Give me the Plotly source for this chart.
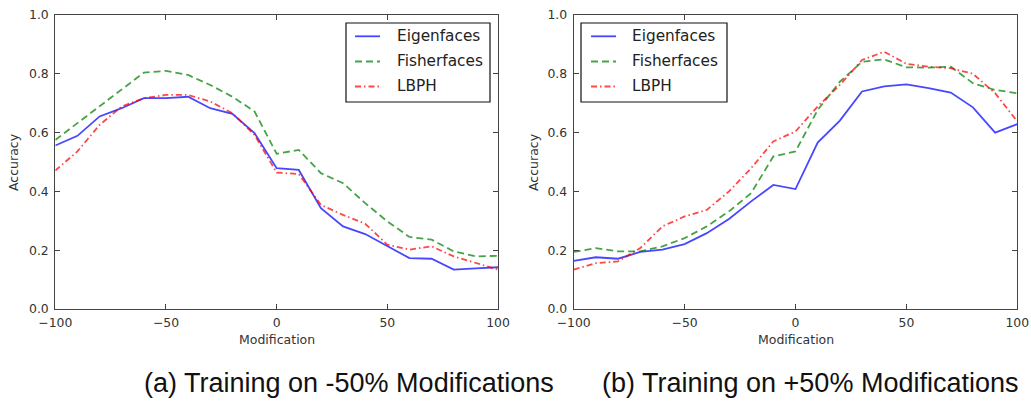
import plotly.graph_objects as go

# Modification levels (percent) shared by both panels
modification = [-100, -90, -80, -70, -60, -50, -40, -30, -20, -10, 0,
                10, 20, 30, 40, 50, 60, 70, 80, 90, 100]

# (a) trained on -50% modifications
eigen_a = [0.556, 0.589, 0.655, 0.683, 0.717, 0.717, 0.722, 0.683, 0.664, 0.598, 0.479,
           0.473, 0.343, 0.281, 0.255, 0.213, 0.173, 0.171, 0.134, 0.138, 0.142]
fisher_a = [0.575, 0.632, 0.690, 0.745, 0.804, 0.810, 0.796, 0.762, 0.722, 0.672, 0.528,
            0.541, 0.462, 0.428, 0.360, 0.298, 0.245, 0.236, 0.196, 0.179, 0.181]
lbph_a = [0.471, 0.536, 0.626, 0.689, 0.717, 0.728, 0.728, 0.706, 0.666, 0.592, 0.464,
          0.459, 0.354, 0.320, 0.290, 0.219, 0.202, 0.213, 0.179, 0.156, 0.134]

# (b) trained on +50% modifications
eigen_b = [0.164, 0.176, 0.171, 0.194, 0.202, 0.221, 0.258, 0.306, 0.366, 0.422, 0.408,
           0.566, 0.641, 0.740, 0.757, 0.764, 0.751, 0.736, 0.686, 0.600, 0.629]
fisher_b = [0.194, 0.207, 0.196, 0.196, 0.213, 0.241, 0.281, 0.332, 0.394, 0.519, 0.536,
            0.677, 0.773, 0.841, 0.849, 0.822, 0.821, 0.824, 0.768, 0.745, 0.734]
lbph_b = [0.134, 0.156, 0.162, 0.207, 0.281, 0.315, 0.337, 0.400, 0.479, 0.570, 0.604,
          0.689, 0.762, 0.847, 0.875, 0.834, 0.824, 0.819, 0.800, 0.734, 0.638]

methods = ["Eigenfaces", "Fisherfaces", "LBPH"]
x_ticks = [-100, -50, 0, 50, 100]
x_tick_text = ["\u2212100", "\u221250", "0", "50", "100"]
y_ticks = [0.0, 0.2, 0.4, 0.6, 0.8, 1.0]
y_tick_text = ["0.0", "0.2", "0.4", "0.6", "0.8", "1.0"]
captions = ["(a) Training on -50% Modifications", "(b) Training on +50% Modifications"]

W, H = 1031, 401
styles = [
    dict(color="rgba(0,0,255,0.72)", dash="solid"),
    dict(color="rgba(0,128,0,0.72)", dash="7px,4px"),
    dict(color="rgba(255,0,0,0.72)", dash="6px,3px,1.5px,3px"),
]

# panel geometry in pixels: (left, right) of each axes box, plus top/bottom
panels_px = [(55.3, 498.0), (573.7, 1017.3)]
top_px, bottom_px = 15.0, 309.0
ydom = [1 - bottom_px / H, 1 - top_px / H]

fig = go.Figure()
panels = [(eigen_a, fisher_a, lbph_a), (eigen_b, fisher_b, lbph_b)]
for i, series in enumerate(panels):
    xa = "x" if i == 0 else "x2"
    ya = "y" if i == 0 else "y2"
    for name, vals, st in zip(methods, series, styles):
        fig.add_trace(go.Scatter(
            x=modification, y=vals, mode="lines", name=name,
            line=dict(color=st["color"], dash=st["dash"], width=1.8),
            xaxis=xa, yaxis=ya, showlegend=False, cliponaxis=True,
        ))

axis_font = dict(family="DejaVu Sans", size=12.4, color="#333333")
common_x = dict(range=[-100, 100], tickvals=x_ticks, ticktext=x_tick_text,
                ticks="inside", ticklen=5, tickcolor="#444444", mirror="allticks",
                showline=True, linecolor="#444444", linewidth=1.2, showgrid=False,
                zeroline=False, tickfont=axis_font, fixedrange=True, automargin=False,
                ticklabelstandoff=2)
common_y = dict(range=[0, 1], tickvals=y_ticks, ticktext=y_tick_text,
                ticks="inside", ticklen=5, tickcolor="#444444", mirror="allticks",
                showline=True, linecolor="#444444", linewidth=1.2, showgrid=False,
                zeroline=False, tickfont=axis_font, fixedrange=True, domain=ydom,
                automargin=False, ticklabelstandoff=3)

fig.update_layout(
    width=W, height=H,
    margin=dict(l=0, r=0, t=0, b=0, autoexpand=False),
    paper_bgcolor="white", plot_bgcolor="white",
    xaxis=dict(common_x, domain=[panels_px[0][0] / W, panels_px[0][1] / W], anchor="y"),
    yaxis=dict(common_y, anchor="x"),
    xaxis2=dict(common_x, domain=[panels_px[1][0] / W, panels_px[1][1] / W], anchor="y2"),
    yaxis2=dict(common_y, anchor="x2"),
    showlegend=False,
)

small_font = dict(family="DejaVu Sans", size=12.5, color="#333333")
caption_font = dict(family="Liberation Sans Narrow, Arial Narrow, Liberation Sans", size=27, color="#111111")

# legend boxes (pixel coords) per panel: box left/right, sample start/end, text start
legend_px = [
    dict(box=(346, 490), line=(355, 380), text=395),
    dict(box=(581, 727), line=(591, 616), text=630),
]
legend_rows = [36.3, 61.5, 86.5]
legend_box_y = (23, 102)

def px_x(v):
    return v / W

def px_y(v):
    return 1 - v / H

for i, (left, right) in enumerate(panels_px):
    cx = (left + right) / 2
    # axis titles
    fig.add_annotation(text="Modification", x=px_x(cx), y=px_y(339), xref="paper", yref="paper",
                       showarrow=False, font=small_font, xanchor="center", yanchor="middle")
    fig.add_annotation(text="Accuracy", x=px_x(14 if i == 0 else 534), y=px_y(162),
                       xref="paper", yref="paper", showarrow=False, font=small_font,
                       textangle=-90, xanchor="center", yanchor="middle")
    fig.add_annotation(text=captions[i], x=px_x(349 if i == 0 else 810), y=px_y(383),
                       xref="paper", yref="paper", showarrow=False, font=caption_font,
                       xanchor="center", yanchor="middle")
    # legend
    lg = legend_px[i]
    fig.add_shape(type="rect", xref="paper", yref="paper",
                  x0=px_x(lg["box"][0]), x1=px_x(lg["box"][1]),
                  y0=px_y(legend_box_y[1]), y1=px_y(legend_box_y[0]),
                  line=dict(color="#111111", width=1.2), fillcolor="white", layer="above")
    for name, st, ry in zip(methods, styles, legend_rows):
        fig.add_shape(type="line", xref="paper", yref="paper",
                      x0=px_x(lg["line"][0]), x1=px_x(lg["line"][1]),
                      y0=px_y(ry), y1=px_y(ry),
                      line=dict(color=st["color"], dash=st["dash"], width=1.8), layer="above")
        fig.add_annotation(text=name, x=px_x(lg["text"]), y=px_y(ry), xref="paper", yref="paper",
                           showarrow=False, xanchor="left", yanchor="middle",
                           font=dict(family="DejaVu Sans", size=15.3, color="#222222"))

fig.write_html("out.html")
